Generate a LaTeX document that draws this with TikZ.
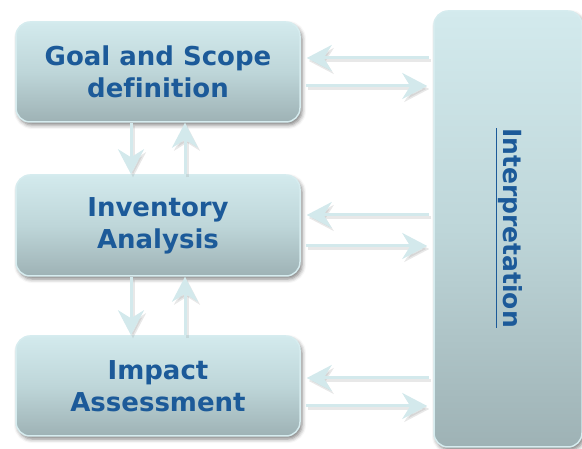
\documentclass[tikz,border=0pt]{standalone}
\usepackage{fontspec}
\setmainfont[Ligatures=NoCommon]{DejaVu Sans}
\usetikzlibrary{arrows.meta,shadows.blur,calc}
\definecolor{txtblue}{HTML}{1C5A99}
\definecolor{boxtop}{HTML}{D3EAED}
\definecolor{boxmid}{HTML}{BED6D9}
\definecolor{boxbot}{HTML}{9EB2B5}
\definecolor{boxedge}{HTML}{D6ECEF}
\definecolor{arrcol}{HTML}{D3E9EC}
\tikzset{
  stagebox/.style={draw=boxedge, line width=1.5pt, rounded corners=14pt,
    top color=boxtop, bottom color=boxbot, middle color=boxmid,
    minimum width=284pt, minimum height=100pt, align=center, inner sep=0pt,
    font=\bfseries\fontsize{26}{32}\selectfont, text=txtblue,
    blur shadow={shadow xshift=2pt, shadow yshift=-3pt, shadow blur radius=4pt, shadow opacity=50}},
  interbox/.style={stagebox, minimum width=148pt, minimum height=436pt},
  arr/.style={draw=arrcol, line width=3pt,
    -{Stealth[length=25pt,width=26pt,inset=8pt]},
    preaction={draw=black!45, opacity=0.2, line width=3pt,
      -{Stealth[length=25pt,width=26pt,inset=8pt]},
      transform canvas={xshift=2pt,yshift=-3pt}}},
}
\begin{document}
\begin{tikzpicture}[x=1pt,y=-1pt]
\useasboundingbox (0,0) rectangle (582,449);
\node[stagebox] (gs) at (158,72) {Goal and Scope\\definition};
\node[stagebox, minimum height=101pt] (ia) at (158,225.5) {Inventory\\Analysis};
\node[stagebox] (im) at (158,386) {Impact\\Assessment};
\node[interbox] (ip) at (508,229) {};
\node[text=txtblue, font=\bfseries\fontsize{25}{30}\selectfont, rotate=-90] (it) at (509,228) {\underline{Interpretation}};
% horizontal arrows
\foreach \bx/\yl/\yr in {gs/58/86, ia/215/246, im/378/406}{
  \draw[arr, shorten >=6pt, shorten <=4pt] (ip.west |- 0,\yl) -- (\bx.east |- 0,\yl);
  \draw[arr, shorten >=6pt, shorten <=5pt] (\bx.east |- 0,\yr) -- (ip.west |- 0,\yr);
}
% vertical arrows
\draw[arr] (gs.south -| 131,0) -- (ia.north -| 131,0);
\draw[arr] (ia.north -| 185,0) -- (gs.south -| 185,0);
\draw[arr] (ia.south -| 131,0) -- (im.north -| 131,0);
\draw[arr] (im.north -| 185,0) -- (ia.south -| 185,0);
\end{tikzpicture}
\end{document}
